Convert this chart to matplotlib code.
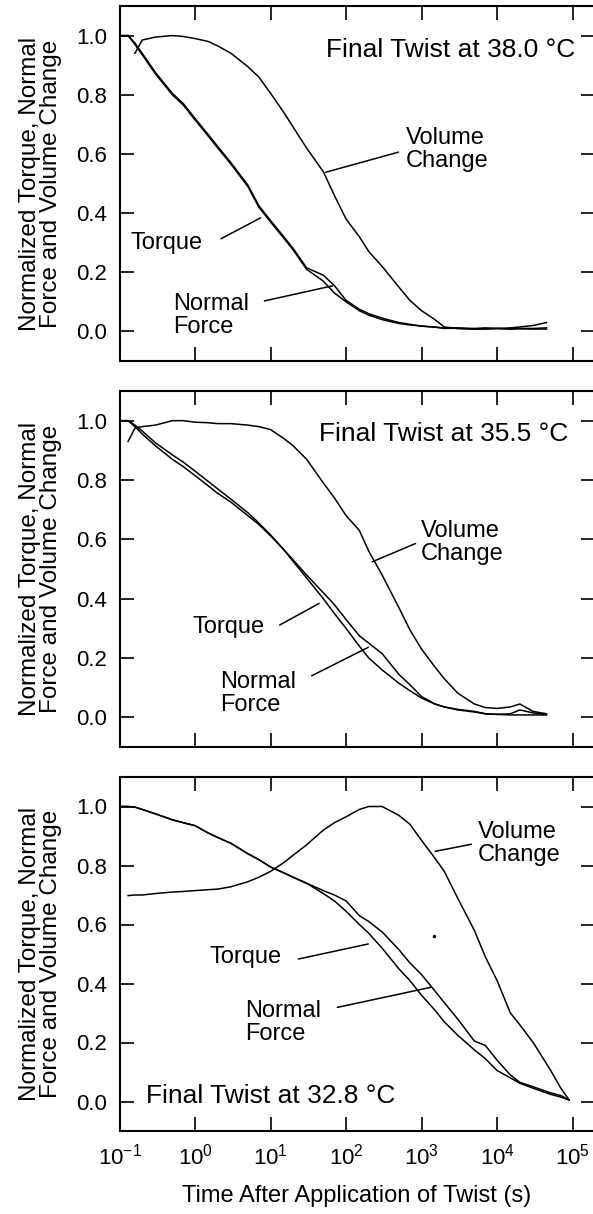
import matplotlib
matplotlib.use('Agg')
import matplotlib.pyplot as plt
import numpy as np

plt.rcParams['font.family'] = ['Liberation Sans', 'DejaVu Sans']
plt.rcParams['mathtext.fontset'] = 'custom'
plt.rcParams['mathtext.rm'] = 'Liberation Sans'
plt.rcParams['mathtext.it'] = 'Liberation Sans'
plt.rcParams['mathtext.default'] = 'regular'
plt.rcParams['axes.unicode_minus'] = False

nan = np.nan

# time grid (s) for the 38.0 and 35.5 C panels
t_a = [0.1, 0.13, 0.16, 0.2, 0.3, 0.5, 0.7, 1, 1.5, 2, 3, 5, 7, 10, 15, 20, 30, 50, 70, 100,
       150, 200, 300, 500, 700, 1000, 1500, 2000, 3000, 5000, 7000, 1e4, 1.5e4, 2e4, 3e4, 4.5e4]

torque_38 = [1.0, 1.0, 0.97, 0.935, 0.87, 0.80, 0.765, 0.715, 0.66, 0.62, 0.565, 0.49, 0.42, 0.37,
             0.315, 0.275, 0.21, 0.17, 0.13, 0.10, 0.07, 0.055, 0.04, 0.027, 0.022, 0.018, 0.014,
             0.012, 0.01, 0.008, 0.009, 0.01, 0.008, 0.009, 0.008, 0.008]
normal_38 = [1.0, 1.0, 0.975, 0.94, 0.875, 0.805, 0.77, 0.72, 0.665, 0.625, 0.57, 0.495, 0.425,
             0.375, 0.32, 0.28, 0.215, 0.19, 0.155, 0.105, 0.075, 0.06, 0.045, 0.03, 0.024, 0.018,
             0.015, 0.01, 0.012, 0.01, 0.012, 0.01, 0.012, 0.015, 0.02, 0.03]
volume_38 = [nan, nan, 0.94, 0.985, 0.995, 1.0, 0.997, 0.99, 0.98, 0.965, 0.94, 0.895, 0.86, 0.805,
             0.74, 0.69, 0.62, 0.54, 0.46, 0.38, 0.32, 0.27, 0.22, 0.15, 0.105, 0.07, 0.04, 0.015,
             0.01, 0.008, 0.008, 0.01, 0.008, 0.01, 0.01, 0.012]

torque_35 = [1.0, 1.0, 0.98, 0.955, 0.915, 0.87, 0.845, 0.815, 0.78, 0.755, 0.725, 0.68, 0.65,
             0.612, 0.565, 0.525, 0.47, 0.40, 0.35, 0.30, 0.24, 0.20, 0.16, 0.115, 0.09, 0.065,
             0.045, 0.035, 0.025, 0.018, 0.012, 0.01, 0.008, 0.008, 0.008, 0.008]
normal_35 = [1.0, 1.0, 0.985, 0.965, 0.925, 0.885, 0.86, 0.83, 0.795, 0.77, 0.735, 0.69, 0.655,
             0.615, 0.565, 0.53, 0.48, 0.42, 0.38, 0.33, 0.275, 0.25, 0.215, 0.145, 0.11, 0.07,
             0.045, 0.035, 0.027, 0.02, 0.012, 0.01, 0.012, 0.025, 0.015, 0.01]
volume_35 = [nan, 0.93, 0.975, 0.98, 0.985, 1.0, 1.0, 0.995, 0.993, 0.99, 0.99, 0.985, 0.98, 0.97,
             0.94, 0.915, 0.87, 0.79, 0.74, 0.68, 0.63, 0.56, 0.48, 0.37, 0.295, 0.23, 0.17, 0.13,
             0.082, 0.045, 0.033, 0.03, 0.035, 0.045, 0.02, 0.012]

# time grid (s) for the 32.8 C panel
t_b = [0.1, 0.13, 0.16, 0.2, 0.3, 0.5, 0.7, 1, 1.5, 2, 3, 5, 7, 10, 15, 20, 30, 50, 70, 100,
       150, 200, 300, 500, 700, 1000, 1500, 2000, 3000, 5000, 7000, 1e4, 1.5e4, 2e4, 3e4, 5e4,
       7e4, 9e4]

torque_32 = [1.0, 1.0, 0.998, 0.99, 0.975, 0.955, 0.945, 0.935, 0.91, 0.895, 0.875, 0.84, 0.82,
             0.795, 0.775, 0.76, 0.74, 0.705, 0.68, 0.645, 0.60, 0.57, 0.52, 0.45, 0.41, 0.36,
             0.31, 0.27, 0.225, 0.175, 0.145, 0.105, 0.08, 0.062, 0.045, 0.025, 0.015, 0.005]
normal_32 = [1.0, 1.0, 0.998, 0.99, 0.975, 0.955, 0.945, 0.935, 0.91, 0.895, 0.875, 0.84, 0.82,
             0.795, 0.775, 0.76, 0.74, 0.715, 0.70, 0.68, 0.63, 0.61, 0.575, 0.515, 0.47, 0.43,
             0.375, 0.335, 0.28, 0.205, 0.19, 0.14, 0.09, 0.065, 0.05, 0.03, 0.02, 0.005]
volume_32 = [nan, 0.698, 0.70, 0.70, 0.705, 0.71, 0.712, 0.715, 0.718, 0.72, 0.728, 0.745, 0.76,
             0.78, 0.81, 0.835, 0.87, 0.92, 0.945, 0.965, 0.99, 1.0, 1.0, 0.97, 0.94, 0.885,
             0.825, 0.78, 0.69, 0.58, 0.49, 0.41, 0.30, 0.26, 0.2, 0.11, 0.045, 0.005]

stray_t = [1445]
stray_y = [0.56]

panels = [
    dict(t=t_a, torque=torque_38, normal=normal_38, volume=volume_38,
         title='Final Twist at 38.0 °C', title_xy=(1.1e5, 0.95), title_ha='right',
         vol_xy=(624, 0.615), vol_line=((495, 0.606), (53.7, 0.538)),
         tq_xy=(0.14, 0.30), tq_line=((2.2, 0.313), (7.4, 0.384)),
         nf_xy=(0.51, 0.055), nf_line=((8.3, 0.103), (66, 0.154))),
    dict(t=t_a, torque=torque_35, normal=normal_35, volume=volume_35,
         title='Final Twist at 35.5 °C', title_xy=(8.8e4, 0.955), title_ha='right',
         vol_xy=(966, 0.59), vol_line=((832, 0.586), (221, 0.524)),
         tq_xy=(0.93, 0.303), tq_line=((13.2, 0.311), (44, 0.384)),
         nf_xy=(2.14, 0.08), nf_line=((35, 0.14), (197, 0.236))),
    dict(t=t_b, torque=torque_32, normal=normal_32, volume=volume_32,
         title='Final Twist at 32.8 °C', title_xy=(0.221, 0.02), title_ha='left',
         vol_xy=(5560, 0.874), vol_line=((4570, 0.872), (1514, 0.848)),
         tq_xy=(1.57, 0.489), tq_line=((23.4, 0.483), (197, 0.534)),
         nf_xy=(4.57, 0.269), nf_line=((76.7, 0.319), (1318, 0.387))),
]

W, H = 593, 1214
fig = plt.figure(figsize=(W / 100, H / 100), dpi=100)
left, right = 119.5 / W, 594.5 / W
boxes = [(6, 361), (391, 747), (777, 1131)]

for i, (p, (top, bot)) in enumerate(zip(panels, boxes)):
    ax = fig.add_axes([left, 1 - bot / H, right - left, (bot - top) / H])
    ax.set_xscale('log')
    ax.set_xlim(0.1, 10 ** 5.29)
    ax.set_ylim(-0.1, 1.1)
    for key in ('torque', 'normal', 'volume'):
        ax.plot(p['t'], p[key], color='black', lw=1.1)
    ax.set_yticks([0, 0.2, 0.4, 0.6, 0.8, 1.0])
    ax.set_yticklabels(['0.0', '0.2', '0.4', '0.6', '0.8', '1.0'])
    ax.set_xticks([1e-1, 1e0, 1e1, 1e2, 1e3, 1e4, 1e5])
    ax.set_xticklabels(['$10^{-1}$', '$10^{0}$', '$10^{1}$', '$10^{2}$', '$10^{3}$',
                        '$10^{4}$', '$10^{5}$'])
    ax.minorticks_off()
    ax.tick_params(direction='in', length=10, width=1.2, top=True, right=True,
                   labelsize=16, pad=9, colors='black')
    if i < 2:
        ax.tick_params(labelbottom=False)
    else:
        ax.set_xlabel('Time After Application of Twist (s)', fontsize=17, labelpad=11)
    for s in ax.spines.values():
        s.set_linewidth(1.5)
    ax.set_ylabel('Normalized Torque, Normal\nForce and Volume Change', fontsize=17.5,
                  linespacing=0.95, labelpad=10)

    ax.text(*p['title_xy'], p['title'], ha=p['title_ha'], va='center', fontsize=19)
    ax.text(*p['vol_xy'], 'Volume\nChange', ha='left', va='center', fontsize=17, linespacing=1.05)
    ax.text(*p['tq_xy'], 'Torque', ha='left', va='center', fontsize=17)
    ax.text(*p['nf_xy'], 'Normal\nForce', ha='left', va='center', fontsize=17, linespacing=1.05)
    for k in ('vol_line', 'tq_line', 'nf_line'):
        a, b = p[k]
        ax.annotate('', xy=b, xytext=a,
                    arrowprops=dict(arrowstyle='-', lw=1.1, color='black',
                                    shrinkA=0, shrinkB=0))
    if i == 2:
        ax.plot(stray_t, stray_y, 'o', color='black', ms=1.5)

fig.savefig('out.png', dpi=100)
